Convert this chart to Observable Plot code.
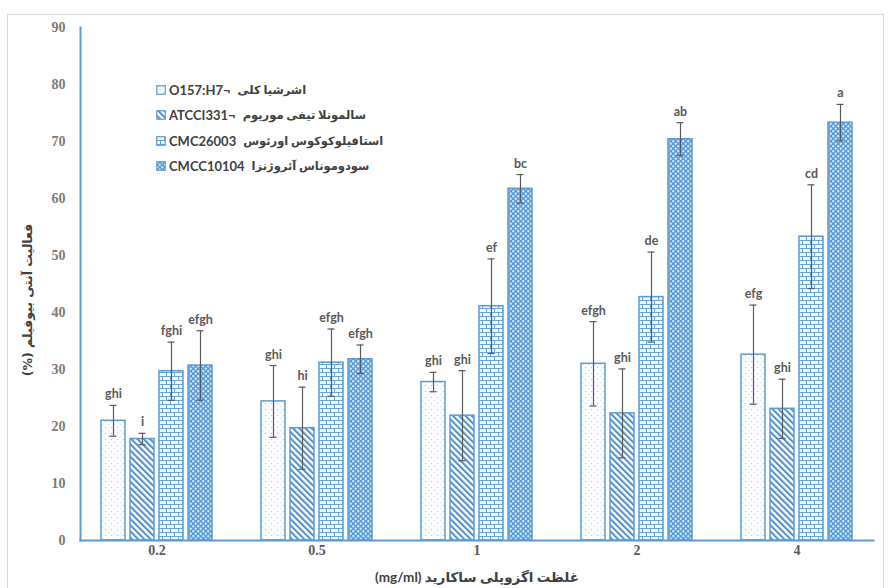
<!DOCTYPE html>
<html>
<head>
<meta charset="utf-8">
<script src="https://cdn.jsdelivr.net/npm/d3@7"></script>
<script src="https://cdn.jsdelivr.net/npm/@observablehq/plot@0.6"></script>
<style>
  html, body { margin: 0; padding: 0; background: #fff; }
  #wrap { position: relative; width: 888px; height: 588px; overflow: hidden; background: #fff; }
  #border { position: absolute; left: 7px; top: 14px; width: 877px; height: 600px; border: 1px solid #d9d9d9; box-sizing: border-box; }
  #chart { position: absolute; left: 0; top: 0; }
  .legend { position: absolute; left: 156px; top: 77px; font-family: "Lato", "DejaVu Sans", sans-serif; font-weight: bold; font-size: 11.5px; color: #404040; }
  .legend .row { display: flex; align-items: center; height: 25.5px; white-space: nowrap; }
  .legend svg { margin-right: 3px; }
  .legend .lat { margin-right: 7px; font-size: 13px; }
  #ylab { position: absolute; left: 27px; top: 300px; transform: translate(-50%, -50%) rotate(-90deg); font-family: "DejaVu Sans", sans-serif; font-weight: bold; font-size: 12.5px; color: #404040; white-space: nowrap; }
  #xlab { position: absolute; left: 477px; top: 577px; transform: translate(-50%, -50%); font-family: "Lato", "DejaVu Sans", sans-serif; font-weight: bold; font-size: 13.5px; color: #404040; white-space: nowrap; }
</style>
</head>
<body>
<div id="wrap">
  <svg width="0" height="0" style="position:absolute">
    <defs>
      <pattern id="pat0" width="6" height="6" patternUnits="userSpaceOnUse">
        <rect width="6" height="6" fill="#fbfdff"/>
        <circle cx="1.5" cy="1.5" r="0.55" fill="#9dc3e6"/>
        <circle cx="4.5" cy="4.5" r="0.55" fill="#c5dbf0"/>
      </pattern>
      <pattern id="pat1" width="4.4" height="4.4" patternUnits="userSpaceOnUse" patternTransform="rotate(-45)">
        <rect width="4.4" height="4.4" fill="#ffffff"/>
        <rect x="0" y="0" width="2" height="4.4" fill="#4f8fd0"/>
      </pattern>
      <pattern id="pat2" width="8" height="8" patternUnits="userSpaceOnUse">
        <rect width="8" height="8" fill="#f4f9fe"/>
        <path d="M0 0.5H8M0 4.5H8M0.5 0.5V4.5M4.5 4.5V8.5" stroke="#6aa3da" stroke-width="1" fill="none"/>
      </pattern>
      <pattern id="pat3" width="5" height="5" patternUnits="userSpaceOnUse">
        <rect width="5" height="5" fill="#5b9bd5"/>
        <circle cx="1.25" cy="1.25" r="1.15" fill="#dcebf8"/>
        <circle cx="3.75" cy="3.75" r="1.15" fill="#dcebf8"/>
      </pattern>
    </defs>
  </svg>
  <div id="border"></div>
  <div id="chart"></div>
  <div class="legend" id="legend"></div>
  <div id="ylab" dir="rtl">فعالیت آنتی بیوفیلم (%)</div>
  <div id="xlab"><span>(mg/ml)</span> <span>غلظت اگزوپلی ساکارید</span></div>
</div>
<script>
// ---- data ----
const concentrations = ["0.2", "0.5", "1", "2", "4"];
const seriesKeys = ["ecoli", "salmonella", "staph", "pseudo"];
const seriesLatin = ["O157:H7¬", "ATCCI331¬", "CMC26003", "CMCC10104"];
const seriesPersian = ["اشرشیا کلی", "سالمونلا تیفی موریوم", "استافیلوکوکوس اورئوس", "سودوموناس آئروژنزا"];

const ecoliMean = [21.0, 24.4, 27.8, 31.0, 32.6];
const ecoliErr = [2.7, 6.3, 1.7, 7.4, 8.7];
const salmonellaMean = [17.8, 19.7, 21.9, 22.3, 23.1];
const salmonellaErr = [1.0, 7.2, 7.9, 7.8, 5.2];
const staphMean = [29.7, 31.2, 41.1, 42.7, 53.3];
const staphErr = [5.1, 5.9, 8.3, 7.9, 9.1];
const pseudoMean = [30.7, 31.8, 61.7, 70.4, 73.3];
const pseudoErr = [6.1, 2.5, 2.5, 2.9, 3.2];

const ecoliLetters = ["ghi", "ghi", "ghi", "efgh", "efg"];
const salmonellaLetters = ["i", "hi", "ghi", "ghi", "ghi"];
const staphLetters = ["fghi", "efgh", "ef", "de", "cd"];
const pseudoLetters = ["efgh", "efgh", "bc", "ab", "a"];

const yTicks = [0, 10, 20, 30, 40, 50, 60, 70, 80, 90];

// ---- table ----
const means = [ecoliMean, salmonellaMean, staphMean, pseudoMean];
const errs = [ecoliErr, salmonellaErr, staphErr, pseudoErr];
const letters = [ecoliLetters, salmonellaLetters, staphLetters, pseudoLetters];
const data = [];
seriesKeys.forEach((s, i) => concentrations.forEach((c, j) => {
  data.push({conc: c, series: s, mean: means[i][j], err: errs[i][j], letter: letters[i][j]});
}));

const blue = "#5b9bd5";
const errColor = "#595959";

const barMarks = seriesKeys.map((s, i) => Plot.barY(data, {
  filter: d => d.series === s,
  fx: "conc", x: "series", y: "mean",
  fill: `url(#pat${i})`, stroke: blue, strokeWidth: 1.5
}));

const chart = Plot.plot({
  width: 888,
  height: 588,
  marginLeft: 78,
  marginRight: 13,
  marginTop: 27,
  marginBottom: 48,
  style: {background: "transparent", fontFamily: "Liberation Serif"},
  fx: {domain: concentrations, padding: 0.044, label: null},
  x: {domain: seriesKeys, paddingInner: 0.17, paddingOuter: 0.69, axis: null},
  y: {domain: [0, 90], label: null},
  marks: [
    ...barMarks,
    Plot.ruleX(data, {fx: "conc", x: "series", y1: d => d.mean - d.err, y2: d => d.mean + d.err, stroke: errColor, strokeWidth: 1.2}),
    Plot.tickY(data, {fx: "conc", x: "series", y: d => d.mean + d.err, insetLeft: 8.5, insetRight: 8.5, stroke: errColor, strokeWidth: 1.2}),
    Plot.tickY(data, {fx: "conc", x: "series", y: d => d.mean - d.err, insetLeft: 8.5, insetRight: 8.5, stroke: errColor, strokeWidth: 1.2}),
    Plot.text(data, {fx: "conc", x: "series", y: d => d.mean + d.err, text: "letter", dy: -11,
      fontFamily: "Lato", fontWeight: "bold", fontSize: 12.5, fill: "#595959"}),
    Plot.axisY({ticks: yTicks, tickSize: 0, tickPadding: 15, fontWeight: "bold", fontSize: 14, fill: "#7a7a7a", label: null}),
    Plot.axisFx({anchor: "bottom", tickSize: 0, tickPadding: 5, fontWeight: "bold", fontSize: 14, fill: "#595959", label: null}),
    Plot.frame({anchor: "bottom", stroke: blue, strokeWidth: 2, facet: "super"}),
    Plot.frame({anchor: "left", stroke: blue, strokeWidth: 2, facet: "super"})
  ]
});
document.getElementById("chart").appendChild(chart);

// ---- legend ----
const legend = document.getElementById("legend");
seriesKeys.forEach((s, i) => {
  const row = document.createElement("div");
  row.className = "row";
  row.innerHTML = `<svg width="10" height="10"><rect x="0.75" y="0.75" width="8.5" height="8.5" fill="url(#pat${i})" stroke="${blue}" stroke-width="1.2"/></svg>` +
    `<span class="lat">${seriesLatin[i]}</span><span dir="rtl">${seriesPersian[i]}</span>`;
  legend.appendChild(row);
});
</script>
</body>
</html>
